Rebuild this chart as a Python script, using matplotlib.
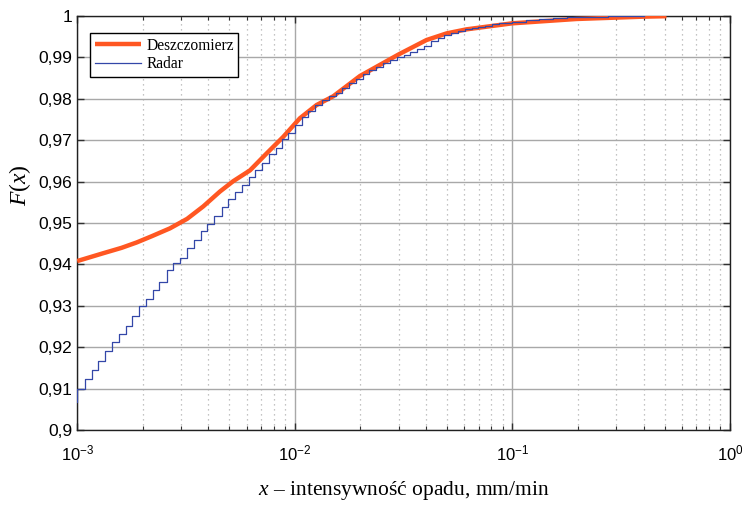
import matplotlib
matplotlib.use("Agg")
import matplotlib.pyplot as plt
from matplotlib.ticker import FixedLocator, LogLocator, NullFormatter

# --- data ---
gauge_x = [1.0e-3, 1.318e-3, 1.6e-3, 1.877e-3, 2.2e-3, 2.668e-3, 3.2e-3, 3.795e-3, 4.529e-3,
           5.212e-3, 6.22e-3, 7.42e-3, 8.845e-3, 1.055e-2, 1.259e-2, 1.501e-2, 1.991e-2,
           2.5e-2, 3.007e-2, 4.03e-2, 4.982e-2, 6.154e-2, 9.97e-2, 0.197, 0.3985, 0.51]
gauge_F = [0.9408, 0.9427, 0.9440, 0.9453, 0.9468, 0.9487, 0.9510, 0.9540, 0.9576,
           0.9601, 0.9627, 0.9668, 0.9708, 0.9753, 0.9785, 0.9806, 0.9855,
           0.9884, 0.99075, 0.9942, 0.9958, 0.99678, 0.99823, 0.99928, 0.99984, 0.99995]

radar_x = [9.3e-4, 1.0e-3, 1.086e-3, 1.166e-3, 1.250e-3, 1.342e-3, 1.450e-3, 1.556e-3,
           1.671e-3, 1.791e-3, 1.923e-3, 2.070e-3, 2.223e-3, 2.384e-3, 2.577e-3,
           2.763e-3, 2.966e-3, 3.185e-3, 3.440e-3, 3.693e-3, 3.959e-3, 4.250e-3,
           4.611e-3, 4.944e-3, 5.306e-3, 5.715e-3, 6.154e-3, 6.578e-3, 7.084e-3,
           7.604e-3, 8.187e-3, 8.752e-3, 9.327e-3, 1.001e-2,
           1.075e-2, 1.155e-2, 1.24e-2, 1.33e-2, 1.43e-2, 1.54e-2, 1.65e-2, 1.78e-2,
           1.91e-2, 2.05e-2, 2.2e-2, 2.37e-2, 2.54e-2, 2.73e-2, 2.94e-2, 3.16e-2,
           3.39e-2, 3.65e-2, 3.92e-2, 4.21e-2, 4.53e-2, 4.87e-2, 5.23e-2, 5.62e-2,
           6.04e-2, 6.49e-2, 6.98e-2, 7.5e-2, 8.06e-2, 8.66e-2, 9.31e-2, 0.1,
           0.115, 0.133, 0.154, 0.178, 0.205, 0.237, 0.274, 0.316, 0.4]
radar_F = [0.9068, 0.9099, 0.9123, 0.9145, 0.9167, 0.9191, 0.9213, 0.9232,
           0.9251, 0.9275, 0.9300, 0.9317, 0.9337, 0.9358, 0.9387,
           0.9403, 0.9416, 0.9439, 0.9459, 0.9481, 0.9498, 0.9517,
           0.9539, 0.9558, 0.9576, 0.9592, 0.9612, 0.9628, 0.9644,
           0.9667, 0.9682, 0.9702, 0.9717, 0.9737,
           0.9755, 0.9770, 0.9785, 0.9796, 0.9806, 0.9815, 0.9826, 0.9838,
           0.9849, 0.9860, 0.9869, 0.9878, 0.9886, 0.9894, 0.9900, 0.9905,
           0.9912, 0.9920, 0.9928, 0.9940, 0.9948, 0.9955, 0.9960, 0.9964,
           0.9968, 0.9971, 0.9974, 0.9977, 0.9980, 0.9982, 0.9984, 0.9986,
           0.9990, 0.9993, 0.9995, 0.9997, 0.9998, 0.99985, 0.9999, 0.99995, 1.0]

y_ticks = [0.90, 0.91, 0.92, 0.93, 0.94, 0.95, 0.96, 0.97, 0.98, 0.99, 1.00]
y_tick_labels = ["0,9", "0,91", "0,92", "0,93", "0,94", "0,95", "0,96", "0,97", "0,98", "0,99", "1"]
series_names = ["Deszczomierz", "Radar"]

plt.rcParams['font.family'] = ['Liberation Sans', 'DejaVu Sans']
plt.rcParams['mathtext.fontset'] = 'custom'
plt.rcParams['mathtext.rm'] = 'Liberation Serif'
plt.rcParams['mathtext.it'] = 'Liberation Serif:italic'

fig = plt.figure(figsize=(7.42, 5.16), dpi=100)
ax = fig.add_axes([0.104, 0.1667, 0.880, 0.8023])

ax.plot(gauge_x, gauge_F, color='#FF5722', lw=3.2, solid_capstyle='butt',
        solid_joinstyle='round', label=series_names[0], zorder=3)
ax.step(radar_x, radar_F, where='post', color='#3347A8', lw=0.9,
        label=series_names[1], zorder=4)

ax.set_xscale('log')
ax.set_xlim(1e-3, 1.0)
ax.set_ylim(0.9, 1.0)

ax.yaxis.set_major_locator(FixedLocator(y_ticks))
ax.set_yticklabels(y_tick_labels)
ax.xaxis.set_major_locator(LogLocator(base=10, numticks=10))
ax.xaxis.set_minor_locator(LogLocator(base=10, subs=range(2, 10), numticks=20))
ax.xaxis.set_minor_formatter(NullFormatter())

ax.grid(which='major', axis='both', color='#a8a8a8', lw=1.0, ls='-', zorder=0)
ax.grid(which='minor', axis='x', color='#b0b0b0', lw=0.9, ls=(0, (1, 3)), zorder=0)
ax.set_axisbelow(True)

ax.tick_params(which='both', direction='in', top=True, right=True, labelsize=12.5,
               color='#303030')
ax.tick_params(which='major', length=5, width=1.0)
ax.tick_params(which='minor', length=3, width=0.8)
ax.tick_params(axis='x', pad=10, labelsize=12)
for s in ax.spines.values():
    s.set_linewidth(1.0)
    s.set_color('#202020')

ax.set_xlabel(r'$x$ – intensywność opadu, mm/min', fontfamily='Liberation Serif',
              fontsize=15.5, labelpad=11)
ax.set_ylabel(r'$F(x)$', fontsize=17)
ax.yaxis.set_label_coords(-0.067, 0.592)

leg = ax.legend(loc='upper left', bbox_to_anchor=(0.0199, 0.959), borderaxespad=0,
                prop={'family': 'Liberation Serif', 'size': 11.2}, fancybox=False,
                framealpha=1, edgecolor='black', handlelength=3.0, labelspacing=0.15,
                borderpad=0.3, handletextpad=0.3)
leg.get_frame().set_linewidth(1.0)

fig.savefig('out.png', dpi=100)
